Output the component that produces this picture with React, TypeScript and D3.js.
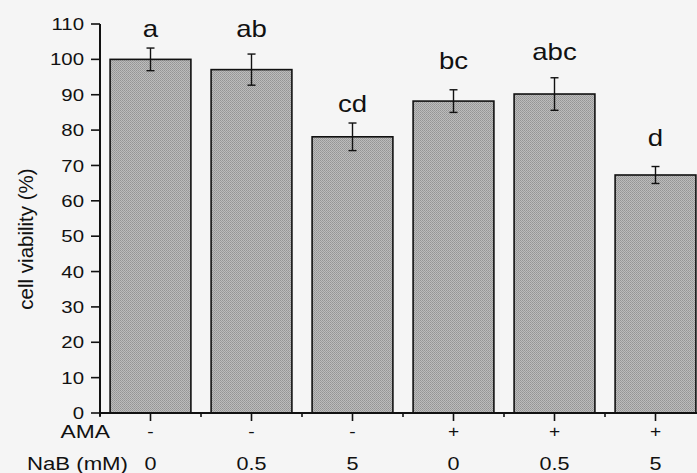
import React from "react";
import * as d3 from "d3";

const nabLabels = ["0", "0.5", "5", "0", "0.5", "5"];
const amaLabels = ["-", "-", "-", "+", "+", "+"];
const viability = [100, 97.1, 78.1, 88.2, 90.2, 67.3];
const errors = [3.2, 4.4, 3.9, 3.2, 4.6, 2.4];
const letters = ["a", "ab", "cd", "bc", "abc", "d"];
const letterY = [106.4, 106.2, 85, 97.4, 99.7, 75.5];
const yTicks = [0, 10, 20, 30, 40, 50, 60, 70, 80, 90, 100, 110];

const W = 697;
const H = 473;
const left = 100;
const bottom = 413;
const top = 24;
const SX = 1.2;

function T({ x, y, size, anchor, children, dy }: any) {
  return (
    <text transform={`translate(${x},${y}) scale(${SX},1)`} dy={dy} textAnchor={anchor} fontSize={size} fill="#111">
      {children}
    </text>
  );
}

export default function App() {
  const idx = nabLabels.map((_, i) => String(i));
  const x = d3.scaleBand<string>().domain(idx).range([left, left + 6 * 101]).paddingInner(0.2).paddingOuter(0.1);
  const y = d3.scaleLinear().domain([0, 110]).range([bottom, top]);
  const font = "Liberation Sans, Arial, sans-serif";
  const step = x.step();
  const bw = x.bandwidth();
  return (
    <svg width={W} height={H} style={{ position: "absolute", left: 0, top: 0 }} fontFamily={font}>
      <defs>
        <pattern id="chk" width="2" height="2" patternUnits="userSpaceOnUse">
          <rect width="2" height="2" fill="#bcbcbc" />
          <rect width="1" height="1" fill="#959595" />
          <rect x="1" y="1" width="1" height="1" fill="#9e9e9e" />
        </pattern>
      </defs>
      <rect width={W} height={H} fill="#f5f5f5" />
      {viability.map((v, i) => {
        const cx = (x(String(i)) as number) + bw / 2;
        return (
          <g key={i}>
            <rect x={x(String(i))} y={y(v)} width={bw} height={bottom - y(v)} fill="url(#chk)" stroke="#111" strokeWidth={1.6} />
            <line x1={cx} x2={cx} y1={y(v + errors[i])} y2={y(v - errors[i])} stroke="#111" strokeWidth={1.4} />
            <line x1={cx - 4} x2={cx + 4} y1={y(v + errors[i])} y2={y(v + errors[i])} stroke="#111" strokeWidth={1.4} />
            <line x1={cx - 4} x2={cx + 4} y1={y(v - errors[i])} y2={y(v - errors[i])} stroke="#111" strokeWidth={1.4} />
            <T x={cx} y={y(letterY[i])} anchor="middle" size={23}>{letters[i]}</T>
            <line x1={cx} x2={cx} y1={bottom} y2={bottom + 8} stroke="#111" strokeWidth={1.6} />
            <line x1={cx - step / 2} x2={cx - step / 2} y1={bottom} y2={bottom + 4} stroke="#111" strokeWidth={1.6} />
            <T x={cx} y={437} anchor="middle" size={16}>{amaLabels[i]}</T>
            <T x={cx} y={470} anchor="middle" size={18}>{nabLabels[i]}</T>
          </g>
        );
      })}
      <line x1={left} x2={W} y1={bottom} y2={bottom} stroke="#111" strokeWidth={2} />
      <line x1={left} x2={left} y1={top} y2={bottom + 3} stroke="#111" strokeWidth={2} />
      {yTicks.map((t) => (
        <g key={t}>
          <line x1={left - 9} x2={left} y1={y(t)} y2={y(t)} stroke="#111" strokeWidth={1.6} />
          <T x={left - 16} y={y(t)} dy="0.36em" anchor="end" size={17}>{t}</T>
        </g>
      ))}
      <text transform={`translate(33,239) rotate(-90)`} textAnchor="middle" fontSize={20.5} fill="#111">cell viability (%)</text>
      <T x={110} y={438} anchor="end" size={19}>AMA</T>
      <T x={128} y={470} anchor="end" size={18.5}>NaB (mM)</T>
    </svg>
  );
}
